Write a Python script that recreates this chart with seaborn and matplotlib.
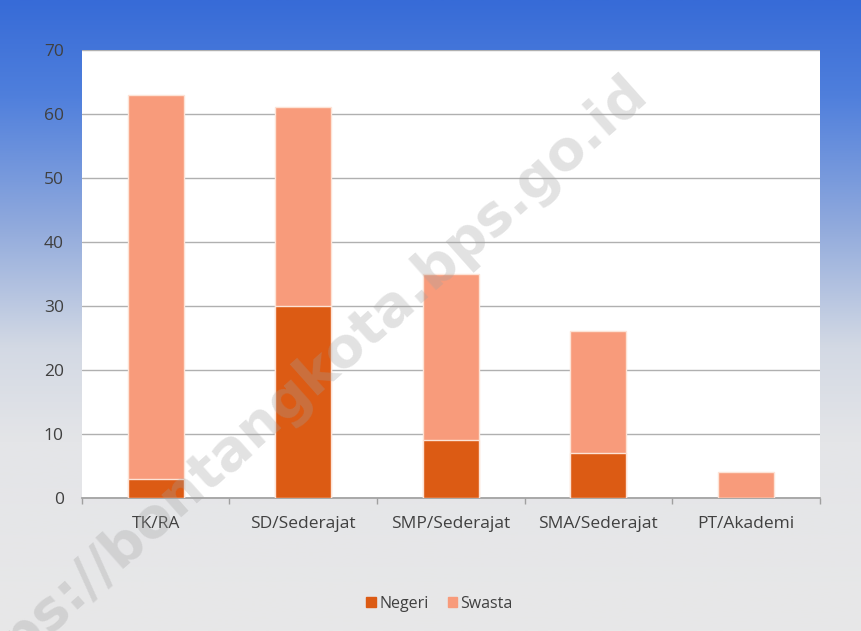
import numpy as np
import pandas as pd
import matplotlib
matplotlib.use("Agg")
import matplotlib.pyplot as plt
from matplotlib.colors import LinearSegmentedColormap
from matplotlib.patches import Patch
import seaborn as sns

# data
jenjang = ["TK/RA", "SD/Sederajat", "SMP/Sederajat", "SMA/Sederajat", "PT/Akademi"]
negeri = [3, 30, 9, 7, 0]
swasta = [60, 31, 26, 19, 4]
y_ticks = [0, 10, 20, 30, 40, 50, 60, 70]

warna_negeri = "#dc5b14"
warna_swasta = "#f89b7b"

sns.set_theme(style="white")
plt.rcParams["font.family"] = ["Open Sans", "DejaVu Sans"]

df = pd.DataFrame({"jenjang": jenjang, "negeri": negeri, "swasta": swasta})
df["total"] = df["negeri"] + df["swasta"]

fig = plt.figure(figsize=(8.62, 6.31), dpi=100)

# background gradient (blue at top fading to light gray)
bg = fig.add_axes([0, 0, 1, 1], zorder=0)
grad_cmap = LinearSegmentedColormap.from_list(
    "bg", [(0.0, "#376bd7"), (0.15, "#4f7fdc"), (0.35, "#8ea8dc"),
           (0.55, "#d3d9e4"), (0.7, "#e4e5e8"), (1.0, "#e8e8e8")])
bg.imshow(np.linspace(0, 1, 256).reshape(-1, 1), aspect="auto", cmap=grad_cmap,
          extent=[0, 1, 0, 1], origin="upper")
bg.axis("off")

ax = fig.add_axes([0.095, 0.211, 0.856, 0.710], zorder=1)
ax.set_facecolor("white")

sns.barplot(data=df, x="jenjang", y="total", color=warna_swasta, width=0.38,
            saturation=1, edgecolor="#fde3d6", linewidth=1, ax=ax, zorder=3)
sns.barplot(data=df, x="jenjang", y="negeri", color=warna_negeri, width=0.38,
            saturation=1, edgecolor="#fde3d6", linewidth=1, ax=ax, zorder=4)

ax.set_ylim(0, 70)
ax.set_xlim(-0.5, len(jenjang) - 0.5)
ax.set_yticks(y_ticks)
ax.yaxis.grid(True, color="#b0b0b0", linewidth=1)
ax.set_axisbelow(True)
for s in ["top", "right", "left"]:
    ax.spines[s].set_visible(False)
ax.spines["bottom"].set_color("#a0a0a0")
ax.set_xlabel("")
ax.set_ylabel("")
ax.tick_params(axis="y", length=0, pad=13, labelsize=12.5, labelcolor="#404040")
ax.tick_params(axis="x", length=0, pad=13, labelsize=12.5, labelcolor="#404040")
# small tick marks between categories
ax.set_xticks(np.arange(-0.5, len(jenjang)), minor=True)
ax.tick_params(axis="x", which="minor", length=4, color="#a0a0a0", bottom=True)

fig.legend(handles=[Patch(color=warna_negeri, label="Negeri"),
                    Patch(color=warna_swasta, label="Swasta")],
           loc="center", bbox_to_anchor=(0.51, 0.043), ncol=2, frameon=False,
           fontsize=11.5, handlelength=0.6, handleheight=0.6, handletextpad=0.2,
           columnspacing=1.2, labelcolor="#404040")

# watermark
fig.text(0.742, 0.865, "https://bontangkota.bps.go.id", rotation=41.7,
         rotation_mode="anchor", ha="right", va="center", fontsize=40,
         fontweight="bold", color="#a0a0a0", alpha=0.3, zorder=10,
         family=["DejaVu Sans"])

fig.savefig("out.png", dpi=100)
